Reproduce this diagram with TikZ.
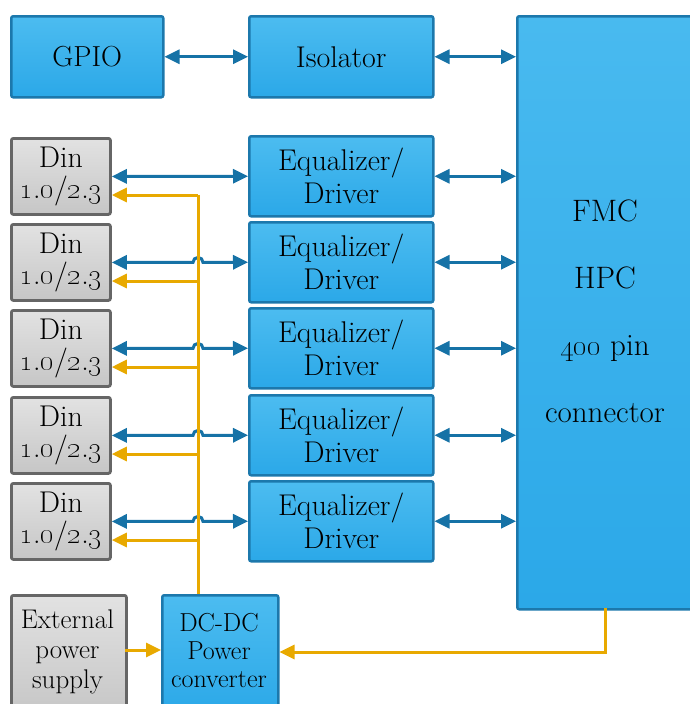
\documentclass[tikz,border=0pt]{standalone}
\usetikzlibrary{arrows.meta}
\definecolor{bluetop}{HTML}{4CBCF0}
\definecolor{bluebot}{HTML}{2BA8E8}
\definecolor{blueedge}{HTML}{1C78AC}
\definecolor{bluearrow}{HTML}{1672A6}
\definecolor{grytop}{HTML}{E2E2E2}
\definecolor{grybot}{HTML}{C6C6C6}
\definecolor{gryedge}{HTML}{666666}
\definecolor{yel}{HTML}{E8A900}
\newcommand\osd[1]{\oldstylenums{#1}}
\begin{document}
\begin{tikzpicture}[x=1pt,y=-1pt,
  bbox/.style={draw=blueedge,line width=2.5pt,rounded corners=2pt,top color=bluetop,bottom color=bluebot,
    anchor=north west,inner sep=0pt,align=center,font=\fontsize{30}{33}\selectfont},
  gbox/.style={draw=gryedge,line width=2.8pt,rounded corners=2pt,top color=grytop,bottom color=grybot,
    anchor=north west,inner sep=0pt,align=center,font=\fontsize{30}{31}\selectfont},
  tip/.tip={Triangle[length=15pt,width=14pt]},
  barrow/.style={draw=bluearrow,line width=3pt,tip-tip},
  yarrow/.style={draw=yel,line width=3pt,-tip},
  yline/.style={draw=yel,line width=3pt}]
\useasboundingbox (0,0) rectangle (689,704);

% top row
\node[bbox,minimum width=152pt,minimum height=81pt,font=\fontsize{29}{33}\selectfont] (gpio) at (10,15) {GPIO};
\node[bbox,minimum width=184pt,minimum height=81pt] (iso) at (248,15) {Isolator};
\node[bbox,minimum width=220pt,minimum height=593pt,top color=bluetop!90!bluebot,bottom color=bluebot] (fmc) at (516,15) {};
\node[font=\fontsize{31}{36}\selectfont,align=center] (fmctext) at (605,311)
  {FMC\\[31pt]HPC\\[31pt]\osd{400} pin\\[31pt]connector};

% din and equalizer rows
\foreach \i/\t in {1/137,2/223,3/309,4/396,5/482}{
  \node[gbox,minimum width=99pt,minimum height=76pt] (din\i) at (10,\t)
    {Din\\\osd{1}.\osd{0}/\osd{2}.\osd{3}};
  \node[bbox,minimum width=184pt,minimum height=80pt] (eq\i) at (248,\t-2) {Equalizer/\\Driver};
  \coordinate (bus\i) at (198,\t+58);
}

% bottom row
\node[gbox,minimum width=115pt,minimum height=120pt] (ext) at (10,594) {};
\node[font=\fontsize{27}{30}\selectfont,align=center] (exttext) at (67.5,652) {External\\power\\supply};
\node[bbox,minimum width=116pt,minimum height=120pt] (dcdc) at (161,594) {};
\node[font=\fontsize{26}{28}\selectfont,align=center] (dcdctext) at (219,651) {DC-DC\\Power\\converter};
\coordinate (extout) at (125,650);
\coordinate (fmcout) at (605,608);
\coordinate (fmcturn) at (605,652);
\coordinate (dcdcin) at (198,594);

% blue connectors
\draw[barrow] (gpio.east) -- (iso.west);
\draw[barrow] (iso.east) -- (iso.east -| fmc.west);
\foreach \i in {1,...,5}{
  \draw[barrow] (eq\i.east) -- (eq\i.east -| fmc.west);
}
\draw[barrow] (din1.east) -- (eq1.west);
\foreach \i in {2,...,5}{
  \draw[barrow] (din\i.east) -- ([xshift=-5pt]bus\i |- din\i.east)
    arc[start angle=180,end angle=0,radius=5pt] -- (eq\i.west);
}

% yellow power connectors
\draw[yline] (dcdcin) -- (bus1);
\foreach \i in {1,...,5}{
  \draw[yarrow] (bus\i) -- (bus\i -| din\i.east);
}
\draw[yarrow] (extout) -- (extout -| dcdc.west);
\draw[yarrow] (fmcout) -- (fmcturn) -- (fmcturn -| dcdc.east);
\end{tikzpicture}
\end{document}
